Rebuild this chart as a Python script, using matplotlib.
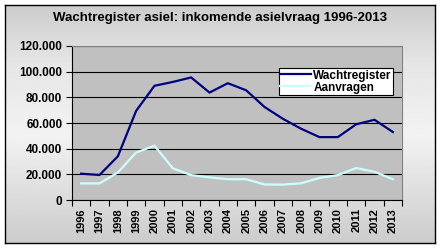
import numpy as np
import matplotlib.pyplot as plt

years = ["1996", "1997", "1998", "1999", "2000", "2001", "2002", "2003", "2004",
         "2005", "2006", "2007", "2008", "2009", "2010", "2011", "2012", "2013"]
wachtregister = [20500, 19500, 34000, 69500, 89000, 92000, 95500, 83700, 91000,
                 85500, 72500, 63300, 55500, 49000, 49000, 59000, 62500, 53000]
aanvragen = [12900, 12900, 21500, 37000, 42300, 24700, 19400, 17600, 16200,
             16200, 12100, 12000, 13000, 17200, 19400, 24900, 22000, 16200]

plt.rcParams["font.family"] = "Liberation Sans"

fig = plt.figure(figsize=(4.41, 2.49), dpi=100)
fig.patch.set_facecolor("white")

# chart area with grey gradient background
bg = fig.add_axes([5 / 441, 6 / 249, 430 / 441, 238 / 249])
grad = np.interp(np.linspace(0, 1, 200), [0, 0.45, 0.75, 1], [0.80, 0.95, 0.90, 0.80])
bg.imshow(np.tile(grad[:, None], (1, 10)), cmap="gray", vmin=0, vmax=1,
          aspect="auto", extent=[0, 1, 0, 1], origin="lower")
bg.set_xlim(0, 1)
bg.set_ylim(0, 1)
bg.set_xticks([])
bg.set_yticks([])
for s in bg.spines.values():
    s.set_color("black")
    s.set_linewidth(1.0)

ax = fig.add_axes([72 / 441, 49 / 249, 330 / 441, 154 / 249])
ax.set_facecolor("#c0c0c0")

x = np.arange(len(years))
ax.plot(x, wachtregister, color="#000080", linewidth=1.6, label="Wachtregister")
ax.plot(x, aanvragen, color="#ccffff", linewidth=1.6, label="Aanvragen")

ax.set_xlim(-0.5, len(years) - 0.5)
ax.set_ylim(0, 120000)
ax.set_yticks(range(0, 120001, 20000))
ax.set_yticklabels([f"{v:,}".replace(",", ".") for v in range(0, 120001, 20000)],
                   fontsize=8.5, fontweight="bold")
ax.yaxis.grid(True, color="black", linewidth=0.8)
ax.set_axisbelow(True)

ax.set_xticks(np.arange(-0.5, len(years), 1))
ax.set_xticklabels([])
ax.set_xticks(x, minor=True)
ax.set_xticklabels(years, minor=True, rotation=90, fontsize=8, fontweight="bold")
ax.tick_params(axis="x", which="minor", length=0, pad=6)
ax.tick_params(axis="x", which="major", length=4, direction="out", color="black")
ax.tick_params(axis="y", length=4, direction="out", color="black", pad=3)

ax.spines["left"].set_color("black")
ax.spines["bottom"].set_color("black")
ax.spines["top"].set_color("#808080")
ax.spines["right"].set_color("#808080")

leg = ax.legend(loc="upper right", bbox_to_anchor=(0.972, 0.855), frameon=True,
                fancybox=False, edgecolor="black", framealpha=1,
                prop={"size": 8.5, "weight": "bold"}, handlelength=2.6,
                borderpad=0.1, labelspacing=0.0, handletextpad=0.2,
                borderaxespad=0)
leg.get_frame().set_linewidth(0.8)

fig.text(0.5, 1 - 18 / 249, "Wachtregister asiel: inkomende asielvraag 1996-2013",
         ha="center", va="center", fontsize=9.5, fontweight="bold")

fig.savefig("out.png", dpi=100)
